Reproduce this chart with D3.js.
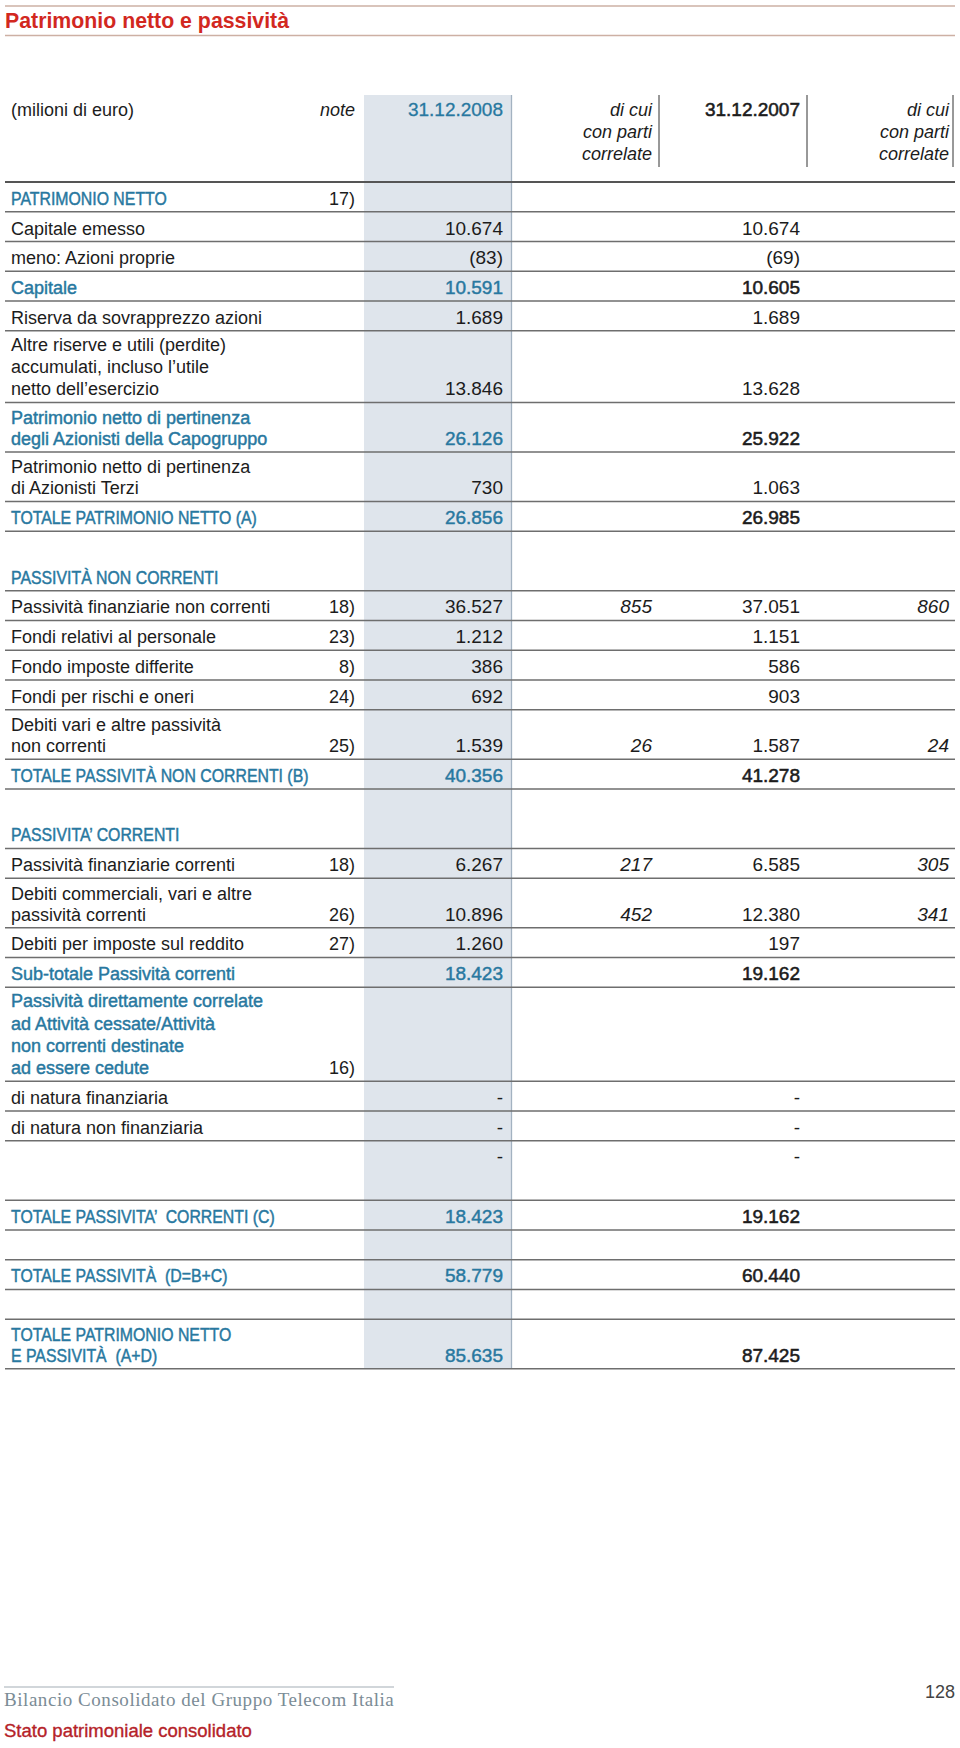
<!DOCTYPE html>
<html><head><meta charset="utf-8">
<script src="https://cdn.jsdelivr.net/npm/d3@7"></script>
<style>body{margin:0;background:#fff}svg text{white-space:pre}</style>
</head><body><svg id="c" width="960" height="1748"></svg>
<script>
// ---------- DATA ----------
const title = "Patrimonio netto e passività";
const headerUnit = "(milioni di euro)";
const headerNote = "note";
const header2008 = "31.12.2008";
const header2007 = "31.12.2007";
const headerRelated = ["di cui", "con parti", "correlate"];
const footerBook = "Bilancio Consolidato del Gruppo Telecom Italia";
const footerSection = "Stato patrimoniale consolidato";
const pageNumber = "128";

const labels = [
  "PATRIMONIO NETTO",
  "Capitale emesso",
  "meno: Azioni proprie",
  "Capitale",
  "Riserva da sovrapprezzo azioni",
  "Altre riserve e utili (perdite)\naccumulati, incluso l’utile\nnetto dell’esercizio",
  "Patrimonio netto di pertinenza\ndegli Azionisti della Capogruppo",
  "Patrimonio netto di pertinenza\ndi Azionisti Terzi",
  "TOTALE PATRIMONIO NETTO (A)",
  "PASSIVITÀ NON CORRENTI",
  "Passività finanziarie non correnti",
  "Fondi relativi al personale",
  "Fondo imposte differite",
  "Fondi per rischi e oneri",
  "Debiti vari e altre passività\nnon correnti",
  "TOTALE PASSIVITÀ NON CORRENTI (B)",
  "PASSIVITA’ CORRENTI",
  "Passività finanziarie correnti",
  "Debiti commerciali, vari e altre\npassività correnti",
  "Debiti per imposte sul reddito",
  "Sub-totale Passività correnti",
  "Passività direttamente correlate\nad Attività cessate/Attività\nnon correnti destinate\nad essere cedute",
  "di natura finanziaria",
  "di natura non finanziaria",
  "",
  "TOTALE PASSIVITA’  CORRENTI (C)",
  "",
  "TOTALE PASSIVITÀ  (D=B+C)",
  "",
  "TOTALE PATRIMONIO NETTO\nE PASSIVITÀ  (A+D)"
];
const notes = ["17)","","","","","","","","","","18)","23)","8)","24)","25)","","","18)","26)","27)","","16)","","","","","","","",""];
const values2008 = ["","10.674","(83)","10.591","1.689","13.846","26.126","730","26.856","","36.527","1.212","386","692","1.539","40.356","","6.267","10.896","1.260","18.423","","-","-","-","18.423","","58.779","","85.635"];
const related2008 = ["","","","","","","","","","","855","","","","26","","","217","452","","","","","","","","","","",""];
const values2007 = ["","10.674","(69)","10.605","1.689","13.628","25.922","1.063","26.985","","37.051","1.151","586","903","1.587","41.278","","6.585","12.380","197","19.162","","-","-","-","19.162","","60.440","","87.425"];
const related2007 = ["","","","","","","","","","","860","","","","24","","","305","341","","","","","","","","","","",""];
// semantic role of each row
const rowTypes = ["section","item","item","subtotal","item","item","subtotal","item","subtotal","sectionGap",
  "item","item","item","item","item","subtotal","sectionGap","item","item","item","subtotal","section",
  "item","item","itemTop","subtotal","spacer","subtotal","spacer","subtotal"];

// ---------- LAYOUT ----------
const svg = d3.select("#c");
const BLUE = "#2878a0", INK = "#1c1c1c", SHADE = "#dfe5ec";
const FONT = "'Liberation Sans', Arial, sans-serif";
const U = 29.75;
const heightByLines = {1: U, 2: 49.5, 3: 71.7, 4: 94};
const tableTop = 182;

const rows = labels.map((l, i) => ({
  i, label: l, lines: l === "" ? [] : l.split("\n"), type: rowTypes[i],
  note: notes[i], v8: values2008[i], r8: related2008[i], v7: values2007[i], r7: related2007[i]
}));
let yy = tableTop;
rows.forEach(r => {
  const n = Math.max(1, r.lines.length);
  const h = (r.type === "sectionGap" || r.type === "itemTop") ? 2 * U : heightByLines[n];
  r.top = yy; r.bottom = yy + h; yy += h;
});
const tableBottom = yy;

const colX = d3.scaleOrdinal()
  .domain(["label","note","v8","r8","v7","r7"])
  .range([11, 355, 503, 652, 800, 949]);
const rowY = d3.scaleOrdinal().domain(rows.map(r => r.i)).range(rows.map(r => r.bottom));

// title
svg.append("line").attr("x1",5).attr("x2",955).attr("y1",6).attr("y2",6).attr("stroke","#cdb0a4").attr("stroke-width",1.6);
svg.append("line").attr("x1",5).attr("x2",955).attr("y1",35.5).attr("y2",35.5).attr("stroke","#cdb0a4").attr("stroke-width",1.6);
svg.append("text").attr("x",5).attr("y",28).attr("font-family",FONT).attr("font-weight","bold")
  .attr("font-size",21.3).attr("fill","#d2281f").text(title);

// shaded 2008 column
svg.append("rect").attr("x",364).attr("y",95).attr("width",148).attr("height",tableBottom-95).attr("fill",SHADE);
svg.append("line").attr("x1",511.5).attr("x2",511.5).attr("y1",95).attr("y2",tableBottom).attr("stroke","#a3b2c1").attr("stroke-width",1.3);

// header
const hdr = svg.append("g").attr("font-family",FONT).attr("font-size",18);
hdr.append("text").attr("x",colX("label")).attr("y",116).attr("fill",INK).text(headerUnit);
hdr.append("text").attr("x",colX("note")).attr("y",116).attr("text-anchor","end").attr("font-style","italic").attr("fill",INK).text(headerNote);
hdr.append("text").attr("x",colX("v8")).attr("y",116).attr("text-anchor","end").attr("fill",BLUE)
  .attr("stroke",BLUE).attr("stroke-width",0.3).attr("font-size",19).text(header2008);
hdr.append("text").attr("x",colX("v7")).attr("y",116).attr("text-anchor","end").attr("fill",INK)
  .attr("stroke",INK).attr("stroke-width",0.55).attr("font-size",19).text(header2007);
["r8","r7"].forEach(c => {
  hdr.selectAll(null).data(headerRelated).enter().append("text")
    .attr("x",colX(c)).attr("y",(d,k)=>116+k*22).attr("text-anchor","end")
    .attr("font-style","italic").attr("fill",INK).text(d=>d);
});
[659, 807, 953].forEach(x => {
  svg.append("line").attr("x1",x).attr("x2",x).attr("y1",95).attr("y2",167).attr("stroke","#333").attr("stroke-width",1);
});
svg.append("line").attr("x1",5).attr("x2",955).attr("y1",tableTop).attr("y2",tableTop).attr("stroke","#555").attr("stroke-width",2);

// row lines
svg.append("g").selectAll("line").data(rows).enter().append("line")
  .attr("x1",5).attr("x2",955).attr("y1",d=>rowY(d.i)).attr("y2",d=>rowY(d.i))
  .attr("stroke","#6e6e6e").attr("stroke-width",1.5);

// row texts
const body = svg.append("g").attr("font-family",FONT).attr("font-size",18);
const isBlueLabel = t => t === "section" || t === "sectionGap" || t === "subtotal";
rows.forEach(r => {
  const base = r.type === "itemTop" ? r.top + U - 7 : r.bottom - 7;
  const n = r.lines.length;
  const gap = n === 2 ? 21 : 22.3;
  const blue = isBlueLabel(r.type);
  r.lines.forEach((ln, k) => {
    const t = body.append("text").attr("x",colX("label")).attr("y", base - (n-1-k)*gap)
      .attr("fill", blue ? BLUE : INK).text(ln);
    if (blue) t.attr("stroke",BLUE).attr("stroke-width",0.45);
    if (ln === ln.toUpperCase() && /[A-Z]/.test(ln)) {
      const w = t.node().getComputedTextLength();
      t.attr("textLength", w*0.88).attr("lengthAdjust","spacingAndGlyphs");
    }
  });
  if (r.note) body.append("text").attr("x",colX("note")).attr("y",base).attr("text-anchor","end").attr("fill",INK).text(r.note);
  const strong = r.type === "subtotal";
  if (r.v8) {
    const t = body.append("text").attr("x",colX("v8")).attr("y",base).attr("text-anchor","end").attr("font-size",19)
      .attr("fill", strong ? BLUE : INK).text(r.v8);
    if (strong) t.attr("stroke",BLUE).attr("stroke-width",0.45);
  }
  if (r.v7) {
    const t = body.append("text").attr("x",colX("v7")).attr("y",base).attr("text-anchor","end").attr("font-size",19)
      .attr("fill", INK).text(r.v7);
    if (strong) t.attr("stroke",INK).attr("stroke-width",0.55);
  }
  if (r.r8) body.append("text").attr("x",colX("r8")).attr("y",base).attr("text-anchor","end").attr("font-size",19).attr("font-style","italic").attr("fill",INK).text(r.r8);
  if (r.r7) body.append("text").attr("x",colX("r7")).attr("y",base).attr("text-anchor","end").attr("font-size",19).attr("font-style","italic").attr("fill",INK).text(r.r7);
});

// footer
svg.append("line").attr("x1",4).attr("x2",394).attr("y1",1687).attr("y2",1687).attr("stroke","#a3adb5").attr("stroke-width",1);
svg.append("text").attr("x",4).attr("y",1706).attr("font-family","'Liberation Serif', 'DejaVu Serif', serif")
  .attr("font-size",19).attr("letter-spacing",0.55).attr("fill","#7b8c96").text(footerBook);
svg.append("text").attr("x",4).attr("y",1737).attr("font-family",FONT).attr("font-size",18.5)
  .attr("fill","#b52228").attr("stroke","#b52228").attr("stroke-width",0.35).text(footerSection);
svg.append("text").attr("x",955).attr("y",1698).attr("text-anchor","end").attr("font-family",FONT)
  .attr("font-size",18).attr("fill","#444").text(pageNumber);
</script></body></html>
